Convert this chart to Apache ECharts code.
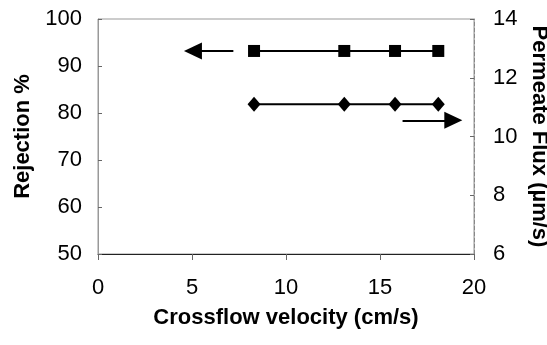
<!DOCTYPE html>
<html>
<head>
<meta charset="utf-8">
<script src="https://cdn.jsdelivr.net/npm/echarts@6/dist/echarts.min.js"></script>
<style>
  html, body { margin: 0; padding: 0; background: #fff; }
  #chart { width: 547px; height: 345px; }
</style>
</head>
<body>
<div id="chart"></div>
<script>
// crossflow velocity (cm/s)
const velocity  = [8.3, 13.1, 15.8, 18.1]
const rejection = [93.2, 93.2, 93.2, 93.2]   // left axis, %
const flux      = [11.1, 11.1, 11.1, 11.1]   // right axis, µm/s

// annotation arrows [x from, x to, y]
const arrowLeft  = [7.2, 5.05, 93.2]
const arrowRight = [16.2, 18.9, 10.55]

const FONT = 'Liberation Sans, Arial, sans-serif'
const INK  = '#000'

const chart = echarts.init(document.getElementById('chart'))

const arrowLine = (a) => ({
  silent: true,
  symbol: ['none', 'triangle'],
  symbolSize: [17, 18],
  label: { show: false },
  lineStyle: { color: INK, width: 2, type: 'solid' },
  data: [[{ coord: [a[0], a[2]] }, { coord: [a[1], a[2]] }]],
})

const titleStyle = { color: INK, fontSize: 22, fontWeight: 'bold', fontFamily: FONT }
const tickStyle  = { color: INK, fontSize: 22, fontFamily: FONT }

chart.setOption({
  animation: false,
  textStyle: { fontFamily: FONT },
  grid: {
    left: 98, right: 73, top: 19, bottom: 91,
    containLabel: false, outerBoundsMode: 'none',
    show: true, borderColor: '#999', borderWidth: 1,
  },
  xAxis: {
    type: 'value', min: 0, max: 20, interval: 5,
    name: 'Crossflow velocity (cm/s)',
    nameLocation: 'middle', nameGap: 53,
    nameTextStyle: titleStyle,
    axisLine: { lineStyle: { color: '#222', width: 1 } },
    axisTick: { inside: false, length: 6, lineStyle: { color: '#666' } },
    axisLabel: { ...tickStyle, margin: 23 },
    splitLine: { show: false },
  },
  yAxis: [
    {
      type: 'value', min: 50, max: 100, interval: 10,
      name: 'Rejection %',
      nameLocation: 'middle', nameGap: 64,
      nameTextStyle: titleStyle,
      axisLine: { show: true, lineStyle: { color: '#999', width: 1 } },
      axisTick: { inside: true, length: 4, lineStyle: { color: '#666' } },
      axisLabel: { ...tickStyle, margin: 16 },
      splitLine: { show: false },
    },
    {
      type: 'value', min: 6, max: 14, interval: 2,
      position: 'right',
      name: 'Permeate Flux (µm/s)',
      nameLocation: 'middle', nameGap: 42, nameRotate: -90,
      nameTextStyle: titleStyle,
      axisLine: { show: true, lineStyle: { color: '#888', width: 1, type: 'dashed' } },
      axisTick: { inside: true, length: 4, lineStyle: { color: '#666' } },
      axisLabel: { ...tickStyle, margin: 19 },
      splitLine: { show: false },
    },
  ],
  series: [
    {
      name: 'Rejection',
      type: 'line',
      yAxisIndex: 0,
      data: velocity.map((v, i) => [v, rejection[i]]),
      symbol: 'rect', symbolSize: 12,
      lineStyle: { color: INK, width: 2 },
      itemStyle: { color: INK },
      markLine: arrowLine(arrowLeft),
    },
    {
      name: 'Flux',
      type: 'line',
      yAxisIndex: 1,
      data: velocity.map((v, i) => [v, flux[i]]),
      symbol: 'diamond', symbolSize: [13, 15],
      lineStyle: { color: INK, width: 2 },
      itemStyle: { color: INK },
      markLine: arrowLine(arrowRight),
    },
  ],
})
</script>
</body>
</html>
